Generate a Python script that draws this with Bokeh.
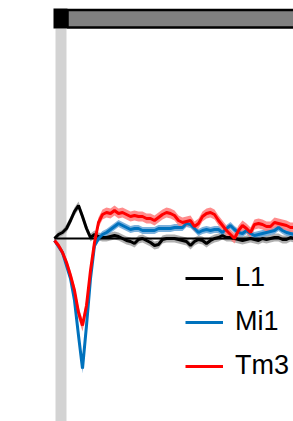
from bokeh.plotting import figure
from bokeh.models import Legend, LegendItem, ColumnDataSource
from bokeh.embed import file_html
from bokeh.resources import INLINE
import numpy as np

# time (s) after stimulus onset
t = [0.00, 0.04, 0.08, 0.12, 0.16, 0.20, 0.24, 0.28, 0.32, 0.36,
     0.40, 0.44, 0.48, 0.52, 0.56, 0.60, 0.64, 0.68, 0.72, 0.76,
     0.80, 0.84, 0.88, 0.92, 0.96, 1.00, 1.04, 1.08, 1.12, 1.16,
     1.20, 1.24, 1.28, 1.32, 1.36, 1.40, 1.44, 1.48, 1.52, 1.56,
     1.60, 1.64, 1.68, 1.72, 1.76, 1.80, 1.84, 1.88, 1.92, 1.96,
     2.00, 2.04, 2.08, 2.12, 2.16, 2.20, 2.24, 2.28, 2.32, 2.36, 2.40]

series_names = ["L1", "Mi1", "Tm3"]

l1 = [0.00, 0.04, 0.06, 0.10, 0.18, 0.27, 0.33, 0.22, 0.10, 0.01,
      0.04, 0.02, 0.01, 0.01, 0.02, 0.03, 0.02, 0.00, -0.02, -0.03,
      -0.05, -0.01, 0.00, -0.02, -0.04, -0.07, -0.06, -0.01, 0.00, 0.00,
      0.00, -0.01, -0.02, -0.03, -0.07, -0.03, -0.01, -0.02, -0.05, -0.02,
      0.00, 0.01, 0.03, 0.01, 0.01, 0.00, -0.01, -0.02, -0.01, 0.00,
      -0.01, -0.02, 0.00, -0.01, 0.00, 0.01, 0.01, -0.01, -0.01, 0.01, 0.00]
l1_sem = [0.02, 0.03, 0.03, 0.04, 0.04, 0.04, 0.04, 0.04, 0.04, 0.04,
          0.04, 0.04, 0.04, 0.04, 0.04, 0.04, 0.04, 0.04, 0.04, 0.04,
          0.04, 0.04, 0.04, 0.04, 0.04, 0.04, 0.04, 0.04, 0.04, 0.04,
          0.04, 0.04, 0.04, 0.04, 0.04, 0.04, 0.04, 0.04, 0.04, 0.04,
          0.04, 0.04, 0.04, 0.04, 0.04, 0.04, 0.04, 0.04, 0.04, 0.04,
          0.04, 0.04, 0.04, 0.04, 0.04, 0.04, 0.04, 0.04, 0.04, 0.04, 0.04]

mi1 = [-0.02, -0.08, -0.14, -0.27, -0.40, -0.62, -0.97, -1.30, -0.87, -0.40,
       -0.07, 0.00, 0.04, 0.06, 0.09, 0.12, 0.15, 0.13, 0.11, 0.09,
       0.10, 0.10, 0.08, 0.08, 0.08, 0.08, 0.10, 0.10, 0.10, 0.10,
       0.11, 0.11, 0.11, 0.15, 0.14, 0.10, 0.06, 0.08, 0.09, 0.08,
       0.09, 0.09, 0.06, 0.10, 0.13, 0.09, 0.06, 0.05, 0.08, 0.05,
       0.03, 0.04, 0.05, 0.06, 0.07, 0.08, 0.11, 0.08, 0.06, 0.05, 0.04]
mi1_sem = [0.02, 0.03, 0.03, 0.03, 0.04, 0.04, 0.05, 0.05, 0.05, 0.04,
           0.035, 0.035, 0.035, 0.035, 0.035, 0.035, 0.035, 0.035, 0.035, 0.035,
           0.035, 0.035, 0.035, 0.035, 0.035, 0.035, 0.035, 0.035, 0.035, 0.035,
           0.035, 0.035, 0.035, 0.035, 0.035, 0.035, 0.035, 0.035, 0.035, 0.035,
           0.035, 0.035, 0.035, 0.035, 0.035, 0.035, 0.035, 0.035, 0.035, 0.035,
           0.035, 0.035, 0.035, 0.035, 0.035, 0.035, 0.035, 0.035, 0.035, 0.035, 0.035]

tm3 = [-0.02, -0.07, -0.14, -0.24, -0.37, -0.52, -0.74, -0.87, -0.67, -0.32,
       -0.04, 0.16, 0.24, 0.26, 0.25, 0.28, 0.25, 0.26, 0.24, 0.22,
       0.23, 0.22, 0.22, 0.20, 0.20, 0.18, 0.21, 0.24, 0.26, 0.25,
       0.23, 0.18, 0.16, 0.17, 0.18, 0.12, 0.15, 0.22, 0.25, 0.26,
       0.24, 0.18, 0.13, 0.08, 0.04, 0.00, 0.08, 0.13, 0.10, 0.06,
       0.14, 0.15, 0.14, 0.12, 0.12, 0.16, 0.15, 0.14, 0.13, 0.11, 0.11]
tm3_sem = [0.02, 0.03, 0.03, 0.04, 0.05, 0.05, 0.06, 0.06, 0.06, 0.05,
           0.05, 0.05, 0.05, 0.05, 0.05, 0.05, 0.05, 0.05, 0.05, 0.05,
           0.05, 0.05, 0.05, 0.05, 0.05, 0.05, 0.05, 0.05, 0.05, 0.05,
           0.05, 0.05, 0.05, 0.05, 0.05, 0.05, 0.05, 0.05, 0.05, 0.05,
           0.05, 0.05, 0.05, 0.05, 0.05, 0.05, 0.05, 0.05, 0.05, 0.05,
           0.05, 0.05, 0.05, 0.05, 0.05, 0.05, 0.05, 0.05, 0.05, 0.05, 0.05]

# stimulus: flash epoch and stimulus bar
flash_on = [0.01]
flash_off = [0.12]
bar_dark_start = [-0.01]
bar_dark_end = [0.13]
bar_grey_end = [2.60]

line_colors = ["#000000", "#0072bd", "#ff0000"]
band_colors = ["#a6a6a6", "#6fa8d8", "#ff8080"]

p = figure(width=293, height=421, output_backend="svg", toolbar_location=None,
           x_range=(-0.54, 2.39), y_range=(-1.83, 2.38), min_border=0)
p.axis.visible = False
p.grid.visible = False
p.outline_line_color = None
p.background_fill_color = "white"
p.border_fill_color = "white"

# flash shading
p.quad(left=flash_on, right=flash_off, bottom=[-3.0], top=[2.10],
       fill_color="#d3d3d3", line_color=None)

# stimulus bar
p.quad(left=bar_dark_end, right=bar_grey_end, bottom=[2.11], top=[2.285],
       fill_color="#808080", line_color="black", line_width=2.5)
p.quad(left=bar_dark_start, right=bar_dark_end, bottom=[2.10], top=[2.30],
       fill_color="black", line_color=None)

ta = np.array(t)
means = [np.array(l1), np.array(mi1), np.array(tm3)]
sems = [np.array(l1_sem), np.array(mi1_sem), np.array(tm3_sem)]

for m, s, bc in zip(means, sems, band_colors):
    src = ColumnDataSource(dict(x=ta, lo=m - s, hi=m + s))
    p.varea(x="x", y1="lo", y2="hi", source=src, fill_color=bc, fill_alpha=0.9)

# zero line
p.line(ta, np.zeros_like(ta), line_color="black", line_width=2)

renderers = []
for m, lc in zip(means, line_colors):
    r = p.line(ta, m, line_color=lc, line_width=3)
    renderers.append(r)

legend = Legend(items=[LegendItem(label=n, renderers=[r]) for n, r in zip(series_names, renderers)],
                location=(185, 40), orientation="vertical",
                glyph_width=38, glyph_height=30, label_height=30, label_standoff=12,
                spacing=13, padding=0, margin=0,
                label_text_font="Liberation Sans", label_text_font_size="27px",
                label_text_color="black",
                border_line_color=None, background_fill_alpha=0)
p.add_layout(legend)

open("out.html", "w").write(file_html(p, INLINE))
